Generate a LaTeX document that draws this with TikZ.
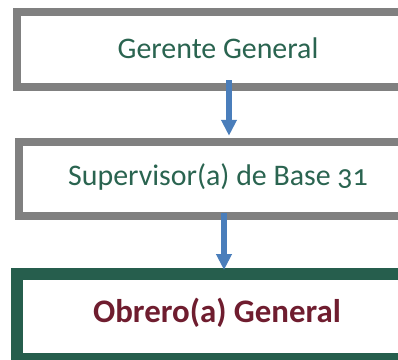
\documentclass[tikz,border=0pt]{standalone}
\usepackage{fontspec}
\setmainfont{Carlito}[Numbers=OldStyle]
\usetikzlibrary{arrows.meta}
\definecolor{boxgray}{HTML}{808080}
\definecolor{boxgreen}{HTML}{265E4D}
\definecolor{txtgreen}{HTML}{2A6450}
\definecolor{txtred}{HTML}{6F1D2F}
\definecolor{arrblue}{HTML}{4A7EBB}
\tikzset{
  boxarea/.style={draw=none, minimum width=420bp, inner sep=0pt, outer sep=0pt, anchor=west},
  grayline/.style={draw=boxgray, line width=8bp},
  greenline/.style={draw=boxgreen, line width=12bp},
  gtext/.style={text=txtgreen, inner sep=0pt, font=\fontsize{30}{36}\selectfont},
  rtext/.style={text=txtred, inner sep=0pt, font=\fontsize{33}{40}\selectfont\bfseries},
  arr/.style={draw=arrblue, line width=6bp, -{Triangle[width=15bp,length=16bp]}}
}
\begin{document}
\begin{tikzpicture}[x=1bp,y=-1bp]
\useasboundingbox (0,0) rectangle (398,360);
\clip (0,0) rectangle (398,360);
\node[boxarea, minimum height=75bp] (b1) at (17,49.5) {};
\node[boxarea, minimum height=74.5bp] (b2) at (19,179) {};
\node[boxarea, minimum height=85bp] (b3) at (17,316.5) {};
\draw[grayline] (b1.north east) -- (b1.north west) -- (b1.south west) -- (b1.south east);
\draw[grayline] (b2.north east) -- (b2.north west) -- (b2.south west) -- (b2.south east);
\draw[greenline] (b3.north east) -- (b3.north west) -- (b3.south west) -- (b3.south east);
\node[gtext] (t1) at (218,48) {Gerente General};
\node[gtext] (t2) at (218,177) {Supervisor(a) de Base 31};
\node[rtext] (t3) at (217,313) {Obrero(a) General};
\draw[arr, shorten >=6bp] ([xshift=11bp,yshift=7bp]t1.center |- b1.south) coordinate (a1s) -- (a1s |- b2.north);
\draw[arr, shorten >=4bp] ([xshift=6bp,yshift=3.5bp]t2.center |- b2.south) coordinate (a2s) -- (a2s |- b3.north);
\end{tikzpicture}
\end{document}
